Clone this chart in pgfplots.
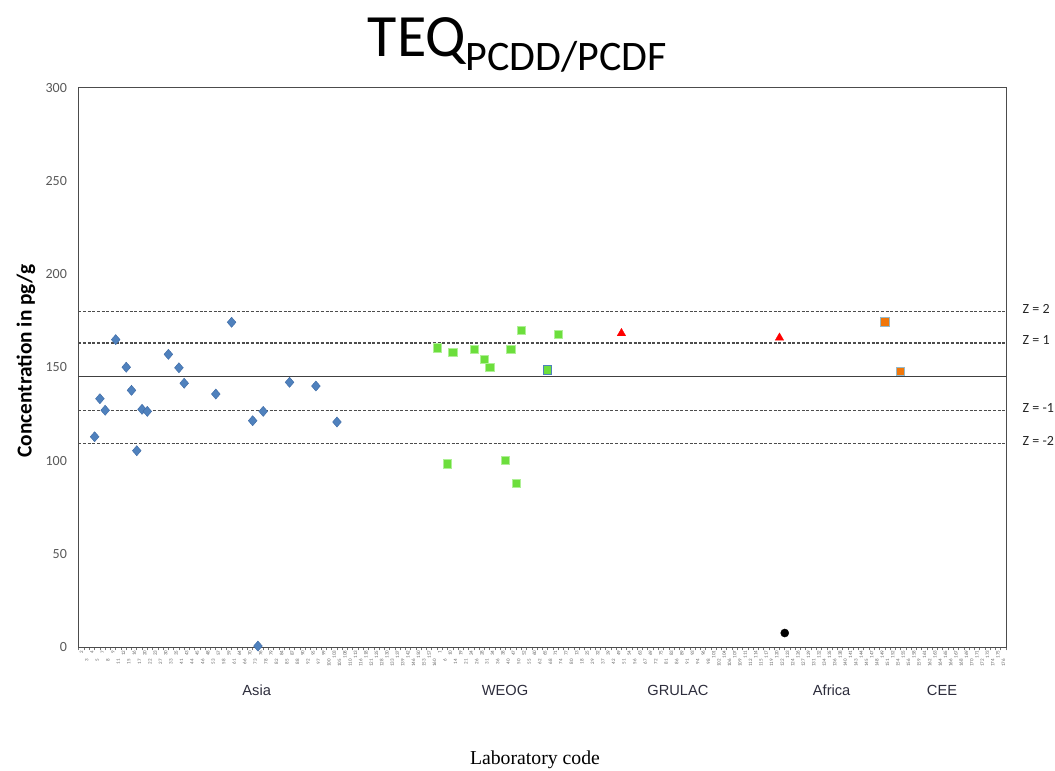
\documentclass[border=0pt]{standalone}
\usepackage{pgfplots}
\pgfplotsset{compat=1.18}
\usepackage{fontspec}
\setmainfont{Carlito}
\newfontfamily\arialf{Liberation Sans}
\newfontfamily\timesf{Liberation Serif}
\definecolor{asiablue}{RGB}{79,129,189}
\definecolor{asiaedge}{RGB}{60,105,165}
\definecolor{weoggreen}{RGB}{108,222,60}
\definecolor{weogedge}{RGB}{175,240,150}
\definecolor{ceeorange}{RGB}{240,118,10}
\definecolor{ceeedge}{RGB}{150,185,200}
\definecolor{ticklab}{RGB}{89,89,89}
\definecolor{reglab}{RGB}{45,45,60}

\pgfplotstableread{
x y
3 112.8
4 133.2
5 127.0
7 164.9
9 150.1
10 137.7
11 105.3
12 127.5
13 126.4
17 157.0
19 149.8
20 141.5
26 135.7
29 174.2
33 121.4
34 0.5
35 126.4
40 142.0
45 140.0
49 120.7
}\asia

\pgfplotstableread{
x y
68 160.6
70 98.3
71 158.1
75 159.9
77 154.3
78 150.1
81 100.2
82 159.9
83 87.8
84 169.9
91 167.9
}\weog

\pgfplotstableread{
x y
89 148.6
}\weogb

\pgfplotstableread{
x y
103 168.3
133 165.9
}\grulac

\pgfplotstableread{
x y
134 7.5
}\africa

\pgfplotstableread{
x y
153 174.4
156 147.7
}\cee

\begin{document}
\begin{tikzpicture}
\useasboundingbox (-58.725pt,-92.25pt) rectangle (732.525pt,485.25pt);
\begin{axis}[
  at={(0,0)}, anchor=south west,
  scale only axis, width=695.775pt, height=419.4pt,
  xmin=-0.1, xmax=176, ymin=0, ymax=300,
  clip=false,
  axis line style={draw=black!70, line width=0.7pt},
  ytick={0,50,...,300},
  /pgf/number format/assume math mode=true,
  yticklabel style={font=\fontsize{10.5}{12}\selectfont, text=ticklab, xshift=-5pt},
  major tick length=0pt,
  minor tick length=2.5pt,
  tick align=outside,
  tick pos=left,
  xtick={0.5,2.5,...,174.5},
  xticklabels={2,4,7,9,12,16,20,23,30,35,43,45,48,57,59,64,70,76,79,84,87,90,95,99,103,108,113,118,125,130,137,142,150,157,
  1,10,19,24,28,34,38,47,52,60,65,71,77,
  13,25,32,39,49,54,63,69,75,83,89,93,96,101,104,107,111,114,117,120,
  123,126,129,132,135,138,141,144,147,149,
  152,155,158,161,163,165,167,169,171,173,175},
  extra x ticks={1.5,3.5,...,175.5},
  extra x tick labels={3,5,8,11,15,17,22,27,33,41,44,46,53,58,61,66,73,78,82,85,88,92,97,100,105,110,116,121,128,133,139,146,153,160,
  6,14,21,26,31,36,40,50,55,62,68,74,80,
  18,29,37,42,51,56,67,72,81,86,91,94,98,102,106,109,112,115,119,
  122,124,127,131,134,136,140,143,145,148,
  151,154,156,159,162,164,166,168,170,172,174,176},
  extra x tick style={xticklabel style={xshift=-6.5pt}},
  minor xtick={0,1,...,176},
  minor tick style={draw=black!55, line width=0.5pt},
  xticklabel style={yshift=-2pt, rotate=90, anchor=east, font=\fontsize{3.8}{4}\selectfont, text=black!60, inner sep=0.5pt},
]
\addplot[black!70, line width=0.8pt, dash pattern=on 2.2pt off 1.3pt, forget plot] coordinates {(-0.1,179.9) (176,179.9)};
\addplot[black!70, line width=0.8pt, dash pattern=on 2.2pt off 1.3pt, forget plot] coordinates {(-0.1,163.1) (176,163.1)};
\addplot[black!75, line width=1.1pt, forget plot] coordinates {(-0.1,145.0) (176,145.0)};
\addplot[black!70, line width=0.8pt, dash pattern=on 2.2pt off 1.3pt, forget plot] coordinates {(-0.1,127.1) (176,127.1)};
\addplot[black!70, line width=0.8pt, dash pattern=on 2.2pt off 1.3pt, forget plot] coordinates {(-0.1,109.0) (176,109.0)};

\addplot[only marks, mark=diamond*, mark size=3.8pt, mark options={fill=asiablue, draw=asiaedge, line width=0.3pt, xscale=1.15}] table {\asia};
\addplot[only marks, mark=square*, mark size=3.1pt, mark options={fill=weoggreen, draw=weogedge, line width=0.4pt}] table {\weog};
\addplot[only marks, mark=square*, mark size=3.1pt, mark options={fill=weoggreen, draw=asiablue, line width=0.6pt}] table {\weogb};
\addplot[only marks, mark=triangle*, mark size=3.7pt, mark options={fill=red, draw=red, line width=0.2pt}] table {\grulac};
\addplot[only marks, mark=*, mark size=3pt, mark options={fill=black, draw=black}] table {\africa};
\addplot[only marks, mark=square*, mark size=3.2pt, mark options={fill=ceeorange, draw=ceeedge, line width=0.8pt}] table {\cee};

\node[anchor=base west, xshift=9pt, yshift=-1.5pt, font=\fontsize{10.5}{12}\selectfont, text=black!85] at (axis cs:176,179.9) {Z = 2};
\node[anchor=base west, xshift=9pt, yshift=-1.5pt, font=\fontsize{10.5}{12}\selectfont, text=black!85] at (axis cs:176,163.1) {Z = 1};
\node[anchor=base west, xshift=9pt, yshift=-1.5pt, font=\fontsize{10.5}{12}\selectfont, text=black!85] at (axis cs:176,127.1) {Z = -1};
\node[anchor=base west, xshift=9pt, yshift=-1.5pt, font=\fontsize{10.5}{12}\selectfont, text=black!85] at (axis cs:176,109.0) {Z = -2};
\end{axis}

\node[anchor=base] at (329.4pt,442.5pt) {\fontsize{45}{50}\selectfont TEQ\raisebox{-10pt}{\fontsize{31.5}{34}\selectfont PCDD/PCDF}};
\node[rotate=90, font=\bfseries\fontsize{16}{19}\selectfont] at (-39.2pt,214.5pt) {Concentration in pg/g};
\node[anchor=base, font=\arialf\fontsize{11}{13}\selectfont, text=reglab] at (133.8pt,-36.4pt) {Asia};
\node[anchor=base, font=\arialf\fontsize{11}{13}\selectfont, text=reglab] at (320.0pt,-36.4pt) {WEOG};
\node[anchor=base, font=\arialf\fontsize{11}{13}\selectfont, text=reglab] at (449.7pt,-36.4pt) {GRULAC};
\node[anchor=base, font=\arialf\fontsize{11}{13}\selectfont, text=reglab] at (565.0pt,-36.4pt) {Africa};
\node[anchor=base, font=\arialf\fontsize{11}{13}\selectfont, text=reglab] at (647.8pt,-36.4pt) {CEE};
\node[anchor=base, font=\timesf\fontsize{14.8}{17}\selectfont] at (342.5pt,-88pt) {Laboratory code};
\end{tikzpicture}
\end{document}
